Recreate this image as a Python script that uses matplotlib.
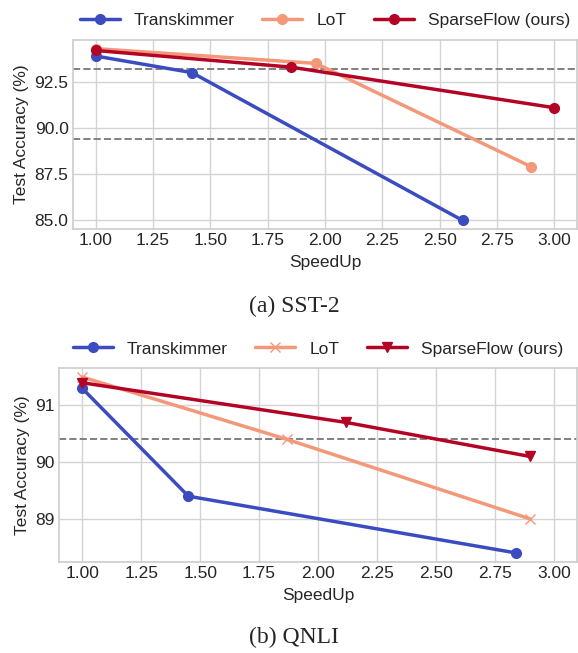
import numpy as np
import matplotlib.pyplot as plt

# SST-2 data
sst_trans_x = [1.0, 1.42, 2.6]
sst_trans_y = [93.9, 93.0, 85.0]
sst_lot_x = [1.0, 1.96, 2.9]
sst_lot_y = [94.3, 93.5, 87.9]
sst_sf_x = [1.0, 1.85, 3.0]
sst_sf_y = [94.2, 93.3, 91.1]
sst_ref_lines = [93.2, 89.4]

# QNLI data
qnli_trans_x = [1.0, 1.45, 2.84]
qnli_trans_y = [91.3, 89.4, 88.4]
qnli_lot_x = [1.0, 1.87, 2.9]
qnli_lot_y = [91.5, 90.4, 89.0]
qnli_sf_x = [1.0, 2.12, 2.9]
qnli_sf_y = [91.4, 90.7, 90.1]
qnli_ref_lines = [90.4]

labels = ['Transkimmer', 'LoT', 'SparseFlow (ours)']
xticks = [1.00, 1.25, 1.50, 1.75, 2.00, 2.25, 2.50, 2.75, 3.00]

plt.style.use('seaborn-v0_8-whitegrid')
plt.rcParams['font.family'] = ['Liberation Sans', 'DejaVu Sans']

cmap = plt.get_cmap('coolwarm')
c_trans = cmap(0.0)
c_lot = cmap(0.75)
c_sf = cmap(1.0)

fig = plt.figure(figsize=(5.78, 6.53), dpi=100)
ax1 = fig.add_axes([0.1258, 0.6493, 0.873, 0.2894])
ax2 = fig.add_axes([0.1016, 0.1398, 0.8972, 0.2962])

def style_axis(ax):
    ax.set_xlim(0.9, 3.1)
    ax.set_xticks(xticks)
    ax.set_xticklabels(['%.2f' % t for t in xticks])
    ax.tick_params(labelsize=12.5, pad=3)
    ax.set_xlabel('SpeedUp', fontsize=12.5, labelpad=5)
    ax.set_ylabel('Test Accuracy (%)', fontsize=12.5, labelpad=4)
    ax.grid(True, color='#d4d4d4', linewidth=1.0)
    for sp in ax.spines.values():
        sp.set_color('#cccccc')
        sp.set_linewidth(1.2)
    ax.legend(loc='lower center', bbox_to_anchor=(0.5, 0.98), ncol=3,
              frameon=False, fontsize=12.5, handlelength=2.3,
              columnspacing=1.6, handletextpad=0.8)

# top panel: SST-2
for y in sst_ref_lines:
    ax1.axhline(y, color='grey', linestyle='--', linewidth=1.4)
ax1.plot(sst_trans_x, sst_trans_y, marker='o', color=c_trans, lw=2.5,
         markersize=7, label=labels[0])
ax1.plot(sst_lot_x, sst_lot_y, marker='o', color=c_lot, lw=2.5,
         markersize=7, label=labels[1])
ax1.plot(sst_sf_x, sst_sf_y, marker='o', color=c_sf, lw=2.5,
         markersize=7, label=labels[2])
ax1.set_yticks([85.0, 87.5, 90.0, 92.5])
ax1.set_yticklabels(['85.0', '87.5', '90.0', '92.5'])
style_axis(ax1)

# bottom panel: QNLI
for y in qnli_ref_lines:
    ax2.axhline(y, color='grey', linestyle='--', linewidth=1.4)
ax2.plot(qnli_trans_x, qnli_trans_y, marker='o', color=c_trans, lw=2.5,
         markersize=7, label=labels[0])
ax2.plot(qnli_lot_x, qnli_lot_y, marker='x', color=c_lot, lw=2.5,
         markersize=7, label=labels[1])
ax2.plot(qnli_sf_x, qnli_sf_y, marker='v', color=c_sf, lw=2.5,
         markersize=7, label=labels[2])
ax2.set_yticks([89, 90, 91])
style_axis(ax2)

fig.text(0.509, 0.531, '(a) SST-2', ha='center', va='center',
         fontsize=17, family='Liberation Serif')
fig.text(0.509, 0.024, '(b) QNLI', ha='center', va='center',
         fontsize=17, family='Liberation Serif')

plt.savefig('out.png', dpi=100)
